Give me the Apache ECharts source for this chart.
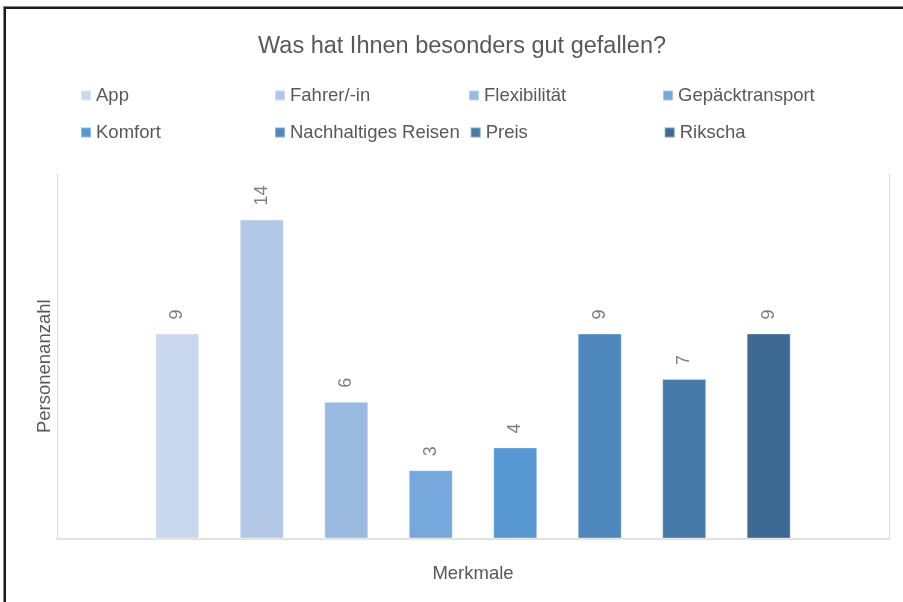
<!DOCTYPE html>
<html>
<head>
<meta charset="utf-8">
<script src="https://cdn.jsdelivr.net/npm/echarts@6/dist/echarts.min.js"></script>
<style>
  html, body { margin: 0; padding: 0; background: #fff; }
  #wrap { position: relative; width: 903px; height: 602px; overflow: hidden; }
  #frame { position: absolute; left: 4px; top: 7px; width: 1000px; height: 700px; border-left: 2px solid #1a1a1a; border-top: 2px solid #1a1a1a; box-shadow: -1px -1px 0 #888; pointer-events: none; }
  #chart { position: absolute; left: 0; top: 0; width: 903px; height: 602px; }
</style>
</head>
<body>
<div id="wrap">
  <div id="chart"></div>
  <div id="frame"></div>
</div>
<script>
const titleText = 'Was hat Ihnen besonders gut gefallen?';
const categories = ['App', 'Fahrer/-in', 'Flexibilität', 'Gepäcktransport', 'Komfort', 'Nachhaltiges Reisen', 'Preis', 'Rikscha'];
const values = [9, 14, 6, 3, 4, 9, 7, 9];
const colors = ['#c9d8ee', '#b3c8e6', '#9bbae0', '#77a8db', '#5898d2', '#4e88bd', '#467aa9', '#3d6992'];
const xName = 'Merkmale';
const yName = 'Personenanzahl';

const chart = echarts.init(document.getElementById('chart'), null, { renderer: 'canvas' });
const font = '"Liberation Sans", Arial, sans-serif';

const series = categories.map((name, i) => ({
  name: name,
  type: 'bar',
  data: [values[i]],
  barWidth: 44,
  barGap: '92%',
  itemStyle: { color: colors[i], borderColor: 'rgba(255,255,255,0.35)', borderWidth: 1 },
  label: {
    show: true,
    position: 'top',
    rotate: 90,
    align: 'left',
    verticalAlign: 'middle',
    distance: 14,
    color: '#7f7f7f',
    fontSize: 18,
    fontFamily: font
  }
}));

chart.setOption({
  animation: false,
  textStyle: { fontFamily: font },
  title: {
    text: titleText,
    left: 253,
    top: 30,
    textStyle: { fontSize: 23.5, fontWeight: 'normal', color: '#595959', fontFamily: font }
  },
  legend: {
    data: categories,
    left: 80,
    top: 82,
    width: 790,
    padding: 0,
    itemWidth: 10,
    itemHeight: 10,
    itemGap: 10,
    icon: 'rect',
    textStyle: { fontSize: 18.5, color: '#595959', width: 168, lineHeight: 27, overflow: 'none', fontFamily: font }
  },
  grid: { left: 57, right: 14, top: 174, bottom: 63.5 },
  xAxis: {
    type: 'category',
    data: [''],
    name: xName,
    nameLocation: 'middle',
    nameGap: 26,
    nameTextStyle: { fontSize: 18.5, color: '#595959', fontFamily: font },
    axisLine: { lineStyle: { color: '#d9d9d9', width: 1.5 } },
    axisTick: { show: false },
    axisLabel: { show: false }
  },
  yAxis: [{
    type: 'value',
    min: 0,
    max: 16,
    name: yName,
    nameLocation: 'middle',
    nameGap: 3,
    nameTextStyle: { fontSize: 18.5, color: '#595959', fontFamily: font, padding: [0, 20, 0, 0] },
    axisLine: { show: true, lineStyle: { color: '#d9d9d9', width: 1 } },
    axisTick: { show: false },
    axisLabel: { show: false },
    splitLine: { show: false }
  }, {
    type: 'value',
    min: 0,
    max: 16,
    position: 'right',
    axisLine: { show: true, lineStyle: { color: '#d9d9d9', width: 1 } },
    axisTick: { show: false },
    axisLabel: { show: false },
    splitLine: { show: false }
  }],
  series: series
});
</script>
</body>
</html>
